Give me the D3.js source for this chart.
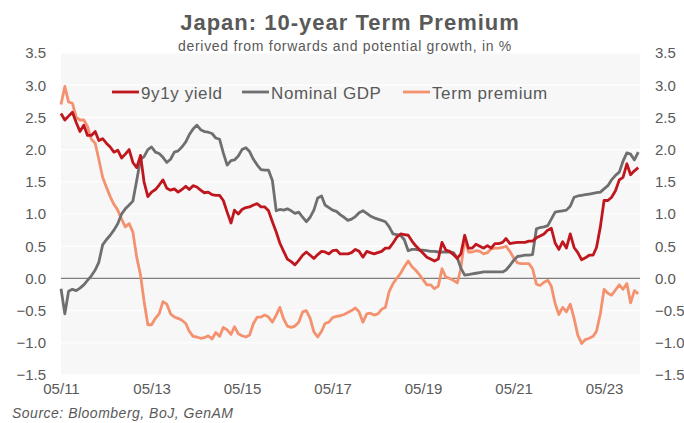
<!DOCTYPE html>
<html>
<head>
<meta charset="utf-8">
<script src="https://cdn.jsdelivr.net/npm/d3@7"></script>
<style>
  body { margin: 0; background: #fff; }
  text { font-family: "Liberation Sans", Arial, sans-serif; fill: #595959; }
</style>
</head>
<body>
<svg id="chart" width="684" height="423"></svg>
<script>
// monthly observations, 05/2011 .. 02/2024
const months = [
    "2011-05","2011-06","2011-07","2011-08","2011-09","2011-10","2011-11","2011-12",
    "2012-01","2012-02","2012-03","2012-04","2012-05","2012-06","2012-07","2012-08","2012-09","2012-10","2012-11","2012-12",
    "2013-01","2013-02","2013-03","2013-04","2013-05","2013-06","2013-07","2013-08","2013-09","2013-10","2013-11","2013-12",
    "2014-01","2014-02","2014-03","2014-04","2014-05","2014-06","2014-07","2014-08","2014-09","2014-10","2014-11","2014-12",
    "2015-01","2015-02","2015-03","2015-04","2015-05","2015-06","2015-07","2015-08","2015-09","2015-10","2015-11","2015-12",
    "2016-01","2016-02","2016-03","2016-04","2016-05","2016-06","2016-07","2016-08","2016-09","2016-10","2016-11","2016-12",
    "2017-01","2017-02","2017-03","2017-04","2017-05","2017-06","2017-07","2017-08","2017-09","2017-10","2017-11","2017-12",
    "2018-01","2018-02","2018-03","2018-04","2018-05","2018-06","2018-07","2018-08","2018-09","2018-10","2018-11","2018-12",
    "2019-01","2019-02","2019-03","2019-04","2019-05","2019-06","2019-07","2019-08","2019-09","2019-10","2019-11","2019-12",
    "2020-01","2020-02","2020-03","2020-04","2020-05","2020-06","2020-07","2020-08","2020-09","2020-10","2020-11","2020-12",
    "2021-01","2021-02","2021-03","2021-04","2021-05","2021-06","2021-07","2021-08","2021-09","2021-10","2021-11","2021-12",
    "2022-01","2022-02","2022-03","2022-04","2022-05","2022-06","2022-07","2022-08","2022-09","2022-10","2022-11","2022-12",
    "2023-01","2023-02","2023-03","2023-04","2023-05","2023-06","2023-07","2023-08","2023-09","2023-10","2023-11","2023-12",
    "2024-01","2024-02"
];

const yield9y1y = [
    2.56, 2.46, 2.52, 2.58, 2.42, 2.28, 2.38, 2.22, 2.22, 2.28, 2.14, 2.17,
    2.10, 2.04, 1.96, 1.99, 1.87, 1.93, 2.00, 1.80, 1.72, 1.91, 1.50, 1.27,
    1.34, 1.38, 1.45, 1.53, 1.40, 1.37, 1.39, 1.34, 1.38, 1.43, 1.38, 1.44,
    1.42, 1.37, 1.33, 1.34, 1.30, 1.29, 1.29, 1.21, 1.03, 0.86, 1.06, 1.00,
    1.07, 1.10, 1.11, 1.14, 1.16, 1.11, 1.11, 1.05, 0.88, 0.72, 0.55, 0.42,
    0.30, 0.26, 0.21, 0.28, 0.36, 0.41, 0.36, 0.31, 0.37, 0.42, 0.41, 0.38,
    0.43, 0.44, 0.38, 0.38, 0.38, 0.40, 0.45, 0.42, 0.33, 0.42, 0.40, 0.38,
    0.40, 0.42, 0.47, 0.47, 0.55, 0.64, 0.69, 0.68, 0.67, 0.58, 0.51, 0.45,
    0.39, 0.33, 0.30, 0.27, 0.30, 0.56, 0.44, 0.42, 0.37, 0.31, 0.38, 0.67,
    0.47, 0.47, 0.53, 0.50, 0.47, 0.51, 0.47, 0.54, 0.54, 0.56, 0.62, 0.54,
    0.55, 0.56, 0.56, 0.56, 0.58, 0.58, 0.63, 0.66, 0.69, 0.75, 0.78, 0.55,
    0.45, 0.57, 0.47, 0.69, 0.48, 0.40, 0.29, 0.32, 0.36, 0.36, 0.48, 0.80,
    1.21, 1.21, 1.26, 1.36, 1.53, 1.57, 1.78, 1.61, 1.67, 1.72
];

const nominalGdp = [
    -0.16, -0.55, -0.20, -0.17, -0.19, -0.15, -0.10, -0.03, 0.04, 0.13, 0.25, 0.52,
    0.60, 0.67, 0.75, 0.85, 1.00, 1.08, 1.14, 1.20, 1.52, 1.85, 1.89, 2.00,
    2.04, 1.96, 1.94, 1.88, 1.80, 1.85, 1.96, 1.98, 2.04, 2.12, 2.23, 2.32,
    2.38, 2.31, 2.28, 2.27, 2.25, 2.18, 2.16, 1.95, 1.76, 1.83, 1.84, 1.90,
    2.00, 2.03, 1.97, 1.85, 1.76, 1.69, 1.68, 1.68, 1.52, 1.05, 1.07, 1.06,
    1.08, 1.05, 1.01, 1.03, 0.95, 0.88, 0.95, 1.06, 1.25, 1.28, 1.14, 1.10,
    1.06, 1.04, 0.99, 0.95, 0.90, 0.92, 0.96, 1.02, 1.05, 1.01, 0.97, 0.94,
    0.92, 0.90, 0.88, 0.80, 0.69, 0.68, 0.67, 0.60, 0.43, 0.45, 0.45, 0.44,
    0.44, 0.43, 0.42, 0.42, 0.41, 0.41, 0.41, 0.41, 0.40, 0.32, 0.16, 0.05,
    0.06, 0.07, 0.08, 0.09, 0.10, 0.10, 0.10, 0.10, 0.10, 0.10, 0.13, 0.20,
    0.28, 0.34, 0.35, 0.36, 0.36, 0.37, 0.77, 0.79, 0.80, 0.82, 0.92, 1.03,
    1.04, 1.05, 1.06, 1.12, 1.26, 1.28, 1.29, 1.30, 1.31, 1.32, 1.33, 1.34,
    1.39, 1.44, 1.53, 1.60, 1.65, 1.82, 1.95, 1.93, 1.84, 1.96
];

const termPremium = [
    2.70, 2.98, 2.74, 2.72, 2.50, 2.46, 2.46, 2.36, 2.16, 2.10, 1.85, 1.57,
    1.42, 1.27, 1.15, 1.06, 0.92, 0.80, 0.85, 0.72, 0.33, 0.05, -0.35, -0.72,
    -0.72, -0.62, -0.55, -0.36, -0.40, -0.55, -0.60, -0.62, -0.65, -0.70, -0.82, -0.90,
    -0.91, -0.93, -0.92, -0.89, -0.94, -0.84, -0.90, -0.76, -0.80, -0.87, -0.75, -0.86,
    -0.89, -0.91, -0.88, -0.70, -0.60, -0.60, -0.57, -0.60, -0.68, -0.57, -0.45, -0.63,
    -0.74, -0.76, -0.74, -0.68, -0.52, -0.50, -0.62, -0.83, -0.91, -0.82, -0.70, -0.68,
    -0.61, -0.59, -0.58, -0.56, -0.53, -0.50, -0.46, -0.52, -0.68, -0.55, -0.54, -0.57,
    -0.55, -0.48, -0.45, -0.20, -0.08, 0.00, 0.08, 0.18, 0.27, 0.18, 0.13, 0.06,
    -0.02, -0.10, -0.10, -0.16, -0.12, 0.15, 0.02, 0.00, -0.03, -0.07, 0.15, 0.62,
    0.41, 0.41, 0.43, 0.42, 0.38, 0.40, 0.46, 0.47, 0.47, 0.48, 0.50, 0.42,
    0.32, 0.24, 0.23, 0.23, 0.23, 0.15, -0.09, -0.11, -0.06, -0.03, -0.12, -0.39,
    -0.56, -0.45, -0.52, -0.40, -0.62, -0.88, -1.01, -0.95, -0.93, -0.90, -0.82, -0.55,
    -0.17, -0.23, -0.26, -0.18, -0.10, -0.17, -0.08, -0.38, -0.19, -0.24
];

const seriesNames = ["9y1y yield", "Nominal GDP", "Term premium"];
const yTicks = [-1.5, -1.0, -0.5, 0.0, 0.5, 1.0, 1.5, 2.0, 2.5, 3.0, 3.5];
const xTicks = ["2011-05", "2013-05", "2015-05", "2017-05", "2019-05", "2021-05", "2023-05"];

const colors = { "9y1y yield": "#c0161e", "Nominal GDP": "#6f6f6f", "Term premium": "#f4916f" };

const svg = d3.select("#chart");
const parseMonth = d3.timeParse("%Y-%m");

const margin = { left: 61, right: 640, top: 53, bottom: 375 };

const x = d3.scaleTime()
    .domain([parseMonth("2011-05"), new Date(2024, 1, 15)])
    .range([margin.left, margin.right]);

const y = d3.scaleLinear()
    .domain([-1.5, 3.5])
    .range([margin.bottom, margin.top]);

// plot area
svg.append("rect")
    .attr("x", margin.left)
    .attr("y", margin.top)
    .attr("width", margin.right - margin.left)
    .attr("height", margin.bottom - margin.top)
    .attr("fill", "#f7f7f7");

svg.append("g").selectAll("line")
    .data(yTicks.filter(d => d !== 0))
    .enter().append("line")
    .attr("x1", margin.left).attr("x2", margin.right)
    .attr("y1", d => y(d)).attr("y2", d => y(d))
    .attr("stroke", "#fff")
    .attr("stroke-width", 1.2);

// axes (labels only)
const leftAxis = svg.append("g")
    .attr("transform", `translate(${margin.left},0)`)
    .call(d3.axisLeft(y).tickValues(yTicks).tickSize(0).tickPadding(15).tickFormat(d3.format(".1f")));

const rightAxis = svg.append("g")
    .attr("transform", `translate(${margin.right},0)`)
    .call(d3.axisRight(y).tickValues(yTicks).tickSize(0).tickPadding(15).tickFormat(d3.format(".1f")));

const bottomAxis = svg.append("g")
    .attr("transform", `translate(0,${margin.bottom})`)
    .call(d3.axisBottom(x).tickValues(xTicks.map(parseMonth)).tickSize(0).tickFormat(d3.timeFormat("%m/%y")));

[leftAxis, rightAxis, bottomAxis].forEach(g => {
    g.select(".domain").remove();
    g.selectAll("text")
        .attr("font-size", 15)
        .attr("font-family", null)
        .attr("fill", "#595959");
});
bottomAxis.selectAll("text").attr("dy", null).attr("y", 19);

// zero line
svg.append("line")
    .attr("x1", margin.left).attr("x2", margin.right)
    .attr("y1", y(0)).attr("y2", y(0))
    .attr("stroke", "#7f7f7f")
    .attr("stroke-width", 1.2);

// lines
const dates = months.map(parseMonth);
const seriesData = {
    "9y1y yield": yield9y1y,
    "Nominal GDP": nominalGdp,
    "Term premium": termPremium
};

const line = d3.line()
    .x((d, i) => x(dates[i]))
    .y(d => y(d));

["Term premium", "Nominal GDP", "9y1y yield"].forEach(name => {
    svg.append("path")
        .datum(seriesData[name])
        .attr("d", line)
        .attr("fill", "none")
        .attr("stroke", colors[name])
        .attr("stroke-width", 2.8)
        .attr("stroke-linejoin", "round");
});

// legend
const legendX = [112, 242, 403];
const legend = svg.append("g");
seriesNames.forEach((name, i) => {
    legend.append("line")
        .attr("x1", legendX[i]).attr("x2", legendX[i] + 27)
        .attr("y1", 92).attr("y2", 92)
        .attr("stroke", colors[name])
        .attr("stroke-width", 2.8);
    legend.append("text")
        .attr("x", legendX[i] + 29)
        .attr("y", 98.5)
        .attr("font-size", 17)
        .attr("letter-spacing", 0.6)
        .text(name);
});

// titles
svg.append("text")
    .attr("x", 350).attr("y", 30)
    .attr("text-anchor", "middle")
    .attr("font-size", 22)
    .attr("font-weight", "bold")
    .attr("letter-spacing", 1)
    .text("Japan: 10-year Term Premium");

svg.append("text")
    .attr("x", 345).attr("y", 51)
    .attr("text-anchor", "middle")
    .attr("font-size", 14)
    .attr("letter-spacing", 0.7)
    .text("derived from forwards and potential growth, in %");

svg.append("text")
    .attr("x", 12).attr("y", 418)
    .attr("font-size", 14)
    .attr("font-style", "italic")
    .attr("letter-spacing", 0.5)
    .text("Source: Bloomberg, BoJ, GenAM");
</script>
</body>
</html>
